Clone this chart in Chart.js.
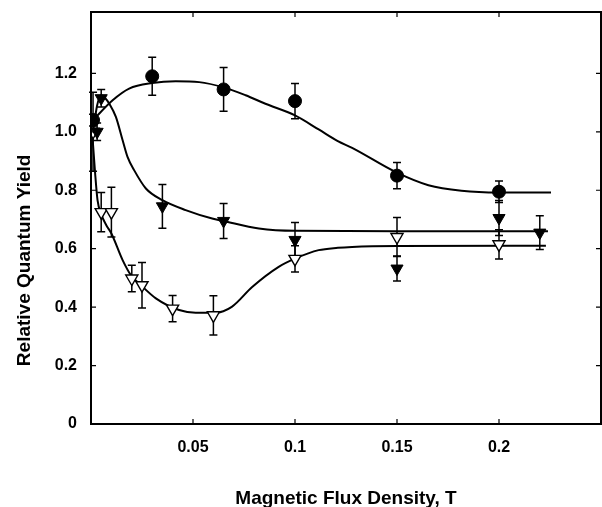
<!DOCTYPE html>
<html>
<head>
<meta charset="utf-8">
<script src="https://cdn.jsdelivr.net/npm/chart.js@4.4.1/dist/chart.umd.min.js"></script>
<style>
  html, body { margin: 0; padding: 0; background: #fff; }
  canvas { display: block; }
</style>
</head>
<body>
<canvas id="yieldChart" width="602" height="507"></canvas>
<script>
// tick labels
const xTicks = [0.05, 0.1, 0.15, 0.2];
const yTicks = [0, 0.2, 0.4, 0.6, 0.8, 1.0, 1.2];

// filled circles
const circleX = [0.001, 0.03, 0.065, 0.1, 0.15, 0.2];
const circleY = [1.04, 1.19, 1.145, 1.105, 0.85, 0.795];
const circleErr = [0.02, 0.065, 0.075, 0.06, 0.045, 0.037];

// filled triangles
const filledX = [0.003, 0.005, 0.035, 0.065, 0.1, 0.15, 0.2, 0.22];
const filledY = [1.0, 1.115, 0.745, 0.695, 0.63, 0.532, 0.705, 0.655];
const filledErr = [0.03, 0.03, 0.075, 0.06, 0.06, 0.043, 0.06, 0.058];

// open triangles
const openX = [0.001, 0.005, 0.01, 0.02, 0.025, 0.04, 0.06, 0.1, 0.15, 0.2];
const openY = [1.0, 0.725, 0.725, 0.498, 0.475, 0.395, 0.372, 0.565, 0.64, 0.615];
const openErr = [0.135, 0.067, 0.085, 0.045, 0.078, 0.045, 0.067, 0.045, 0.067, 0.05];

// fitted curves
const fitCircleX = [0.001, 0.0106, 0.0187, 0.03, 0.0415, 0.053, 0.065, 0.0758, 0.0855, 0.1, 0.1116, 0.121, 0.128, 0.15, 0.1654, 0.1816, 0.2, 0.2255];
const fitCircleY = [1.04, 1.108, 1.148, 1.167, 1.173, 1.17, 1.152, 1.125, 1.096, 1.056, 1.008, 0.968, 0.945, 0.86, 0.817, 0.798, 0.792, 0.792];

const fitFilledX = [0.001, 0.003, 0.0049, 0.007, 0.009, 0.0122, 0.0155, 0.0179, 0.0212, 0.0269, 0.035, 0.0464, 0.0594, 0.0647, 0.0823, 0.1, 0.15, 0.224];
const fitFilledY = [1.0, 1.09, 1.125, 1.115, 1.096, 1.051, 0.971, 0.914, 0.868, 0.806, 0.766, 0.732, 0.703, 0.695, 0.669, 0.661, 0.66, 0.66];

const fitOpenX = [0.0005, 0.002, 0.0032, 0.0049, 0.0075, 0.01, 0.0155, 0.0196, 0.0236, 0.0318, 0.0432, 0.0513, 0.061, 0.069, 0.079, 0.092, 0.1, 0.1116, 0.121, 0.128, 0.15, 0.223];
const fitOpenY = [1.005, 0.86, 0.766, 0.72, 0.68, 0.652, 0.561, 0.509, 0.481, 0.43, 0.39, 0.381, 0.381, 0.401, 0.469, 0.538, 0.566, 0.595, 0.603, 0.606, 0.609, 0.61];

const yTitle = "Relative Quantum Yield";

function pts(xs, ys) {
  return xs.map((x, i) => ({ x: x, y: ys[i] }));
}

const FONT = "'Liberation Sans', Arial, sans-serif";

// error bars under the markers
const errorBars = {
  id: "errorBars",
  beforeDatasetsDraw(chart) {
    const ctx = chart.ctx;
    const xs = chart.scales.x, ys = chart.scales.y;
    ctx.save();
    ctx.strokeStyle = "#000";
    ctx.lineWidth = 1.5;
    chart.data.datasets.forEach(ds => {
      if (!ds.errors) return;
      ds.data.forEach((p, i) => {
        const e = ds.errors[i];
        const px = xs.getPixelForValue(p.x);
        const top = ys.getPixelForValue(p.y + e);
        const bot = ys.getPixelForValue(p.y - e);
        ctx.beginPath();
        ctx.moveTo(px, top); ctx.lineTo(px, bot);
        ctx.moveTo(px - 4, top); ctx.lineTo(px + 4, top);
        ctx.moveTo(px - 4, bot); ctx.lineTo(px + 4, bot);
        ctx.stroke();
      });
    });
    ctx.restore();
  }
};

// box round the plot, inward ticks on all four sides, y title
const frame = {
  id: "frame",
  afterDraw(chart) {
    const ctx = chart.ctx;
    const a = chart.chartArea;
    const xs = chart.scales.x, ys = chart.scales.y;
    ctx.save();
    ctx.strokeStyle = "#000";
    ctx.lineWidth = 2;
    ctx.strokeRect(a.left, a.top, a.right - a.left, a.bottom - a.top);
    ctx.lineWidth = 1.2;
    ctx.beginPath();
    xTicks.forEach(v => {
      const px = xs.getPixelForValue(v);
      ctx.moveTo(px, a.bottom); ctx.lineTo(px, a.bottom - 5);
      ctx.moveTo(px, a.top); ctx.lineTo(px, a.top + 5);
    });
    yTicks.forEach(v => {
      if (v === 0) return;
      const py = ys.getPixelForValue(v);
      ctx.moveTo(a.left, py); ctx.lineTo(a.left + 5, py);
      ctx.moveTo(a.right, py); ctx.lineTo(a.right - 5, py);
    });
    ctx.stroke();

    // y title sits a little below the middle of the axis
    ctx.translate(25, ys.getPixelForValue(0.56));
    ctx.rotate(-Math.PI / 2);
    ctx.fillStyle = "#000";
    ctx.font = "bold 19px " + FONT;
    ctx.textAlign = "center";
    ctx.textBaseline = "middle";
    ctx.fillText(yTitle, 0, 0);
    ctx.restore();
  }
};

new Chart(document.getElementById("yieldChart"), {
  type: "scatter",
  data: {
    datasets: [
      {
        data: pts(circleX, circleY), errors: circleErr,
        pointStyle: "circle", pointRadius: 6.5,
        backgroundColor: "#000", borderColor: "#000", borderWidth: 1
      },
      {
        data: pts(filledX, filledY), errors: filledErr,
        pointStyle: "triangle", rotation: 180, pointRadius: 7,
        backgroundColor: "#000", borderColor: "#000", borderWidth: 1
      },
      {
        data: pts(openX, openY), errors: openErr,
        pointStyle: "triangle", rotation: 180, pointRadius: 7,
        backgroundColor: "#fff", borderColor: "#000", borderWidth: 1.4
      },
      {
        data: pts(fitCircleX, fitCircleY), showLine: true, pointRadius: 0,
        borderColor: "#000", borderWidth: 2, cubicInterpolationMode: "monotone"
      },
      {
        data: pts(fitFilledX, fitFilledY), showLine: true, pointRadius: 0,
        borderColor: "#000", borderWidth: 2, cubicInterpolationMode: "monotone"
      },
      {
        data: pts(fitOpenX, fitOpenY), showLine: true, pointRadius: 0,
        borderColor: "#000", borderWidth: 2, cubicInterpolationMode: "monotone"
      }
    ]
  },
  options: {
    responsive: false,
    animation: false,
    layout: { autoPadding: false, padding: { top: 12, right: 1, left: 0, bottom: 0 } },
    plugins: { legend: { display: false }, tooltip: { enabled: false } },
    scales: {
      x: {
        type: "linear", min: 0, max: 0.25,
        afterBuildTicks: s => { s.ticks = xTicks.map(v => ({ value: v })); },
        afterFit: s => { s.height = 83; s.paddingLeft = 0; s.paddingRight = 0; },
        grid: { display: false },
        border: { display: false },
        ticks: {
          padding: 6, color: "#000",
          font: { family: FONT, size: 16, weight: "bold" },
          callback: v => String(v)
        },
        title: {
          display: true, text: "Magnetic Flux Density, T", color: "#000",
          font: { family: FONT, size: 19, weight: "bold" },
          padding: { top: 0, bottom: -3 }
        }
      },
      y: {
        type: "linear", min: 0, max: 1.41,
        afterBuildTicks: s => { s.ticks = yTicks.map(v => ({ value: v })); },
        afterFit: s => { s.width = 91; s.paddingTop = 0; s.paddingBottom = 0; },
        grid: { display: false },
        border: { display: false },
        ticks: {
          padding: 6, color: "#000",
          font: { family: FONT, size: 16, weight: "bold" },
          callback: v => (v === 0 ? "0" : v.toFixed(1))
        }
      }
    }
  },
  plugins: [errorBars, frame]
});
</script>
</body>
</html>
